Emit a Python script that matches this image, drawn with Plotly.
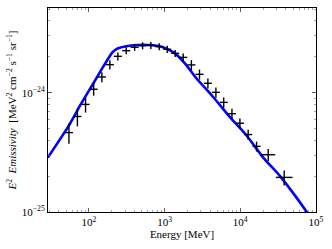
import plotly.graph_objects as go

# Data points (energy in MeV, E^2 emissivity in units of 1e-24 MeV^2 cm^-2 s^-1 sr^-1)
energy = [54.5, 70.5, 90.4, 115.6, 148.6, 189.2, 241.5, 311, 402, 512, 659, 849,
          1084, 1380, 1762, 2259, 2891, 3733, 4764, 6039, 7762, 9886, 12706,
          16406, 23388, 38019]
e_lo = [48.2, 62.4, 80.0, 102.3, 131.5, 167.4, 213.7, 275.2, 355.8, 453.1, 583.2,
        751.3, 959.3, 1221, 1559, 1999, 2558, 3304, 4216, 5344, 6869, 8749,
        11244, 14519, 18922, 29518]
e_hi = [61.6, 79.7, 102.2, 130.6, 167.9, 213.8, 272.9, 351.4, 454.3, 578.6, 744.7,
        959.4, 1224.9, 1559, 1991, 2553, 3267, 4218, 5383, 6824, 8771, 11171,
        14358, 18539, 28908, 48968]
emiss = [0.463, 0.632, 0.798, 1.069, 1.355, 1.718, 2.018, 2.249, 2.404, 2.477,
         2.495, 2.432, 2.312, 2.138, 1.977, 1.710, 1.426, 1.199, 1.007, 0.830,
         0.667, 0.555, 0.446, 0.355, 0.302, 0.195]
emiss_err = [0.090, 0.110, 0.116, 0.125, 0.130, 0.150, 0.157, 0.153, 0.163, 0.168,
             0.170, 0.165, 0.157, 0.145, 0.154, 0.166, 0.138, 0.116, 0.098, 0.081,
             0.065, 0.054, 0.043, 0.034, 0.035, 0.028]

# Model curve samples
model_e = [28.7, 52.8, 79.1, 107.2, 145.2, 199.5, 220.0, 243.8, 299.2, 447.7, 606.7,
           912, 1368, 1854, 2649, 4385, 7295, 12106, 20091, 33266, 55335, 100000]
model_y = [0.286, 0.514, 0.809, 1.117, 1.545, 2.138, 2.270, 2.355, 2.440, 2.512,
           2.512, 2.432, 2.138, 1.762, 1.315, 0.920, 0.624, 0.438, 0.286, 0.201,
           0.132, 0.0776]

scale = 1e-24
x_major = [1e2, 1e3, 1e4, 1e5]
x_major_text = ["10<sup>2</sup>", "10<sup>3</sup>", "10<sup>4</sup>", "10<sup>5</sup>"]
y_major = [1e-25, 1e-24]
y_major_text = ["10<sup>−25</sup>", "10<sup>−24</sup>"]

x_minor = [m * 10 ** d for d in range(1, 5) for m in range(2, 10)]
y_minor = [m * 10 ** d for d in (-25, -24) for m in range(2, 10)]

fig = go.Figure()

fig.add_trace(go.Scatter(
    x=model_e, y=[v * scale for v in model_y], mode="lines",
    line=dict(color="#0000ff", width=2.6, shape="spline", smoothing=0.6),
    hoverinfo="skip", showlegend=False))

fig.add_trace(go.Scatter(
    x=energy, y=[v * scale for v in emiss], mode="markers",
    marker=dict(size=1, color="black", opacity=0),
    error_y=dict(type="data", array=[v * scale for v in emiss_err],
                 color="black", thickness=1.4, width=0),
    error_x=dict(type="data", symmetric=False,
                 array=[h - e for h, e in zip(e_hi, energy)],
                 arrayminus=[e - l for e, l in zip(energy, e_lo)],
                 color="black", thickness=1.4, width=0),
    showlegend=False))

font_family = "Liberation Serif, DejaVu Serif, serif"

fig.update_layout(
    width=332, height=249,
    margin=dict(l=48, r=16, t=8, b=37),
    paper_bgcolor="white", plot_bgcolor="white",
    font=dict(family=font_family, size=10, color="black"),
    showlegend=False,
    xaxis=dict(
        type="log", range=[1.46, 5.0],
        tickmode="array", tickvals=x_major, ticktext=x_major_text,
        ticks="inside", ticklen=4, tickwidth=0.8, tickcolor="#333",
        showline=True, linecolor="black", linewidth=1, mirror="ticks",
        showgrid=False, zeroline=False,
        tickfont=dict(size=11),
        minor=dict(tickmode="array", tickvals=x_minor, ticks="inside",
                   ticklen=2, tickwidth=0.6, tickcolor="#666", showgrid=False),
        title=dict(text="Energy [MeV]", font=dict(size=11), standoff=3),
    ),
    yaxis=dict(
        type="log", range=[-25.0, -23.29],
        tickmode="array", tickvals=y_major, ticktext=y_major_text,
        ticks="inside", ticklen=4, tickwidth=0.8, tickcolor="#333",
        showline=True, linecolor="black", linewidth=1, mirror="ticks",
        showgrid=False, zeroline=False,
        tickfont=dict(size=11),
        minor=dict(tickmode="array", tickvals=y_minor, ticks="inside",
                   ticklen=2, tickwidth=0.6, tickcolor="#666", showgrid=False),
        title=dict(text="<i>E</i><sup>2</sup>  <i>Emissivity</i>  [MeV<sup>2</sup> cm<sup>−2</sup> s<sup>−1</sup> sr<sup>−1</sup>]",
                   font=dict(size=11), standoff=2),
    ),
)

fig.write_html("out.html", config={"displayModeBar": False, "staticPlot": True},
               post_script="document.body.style.margin='0';document.body.style.overflow='hidden';")
